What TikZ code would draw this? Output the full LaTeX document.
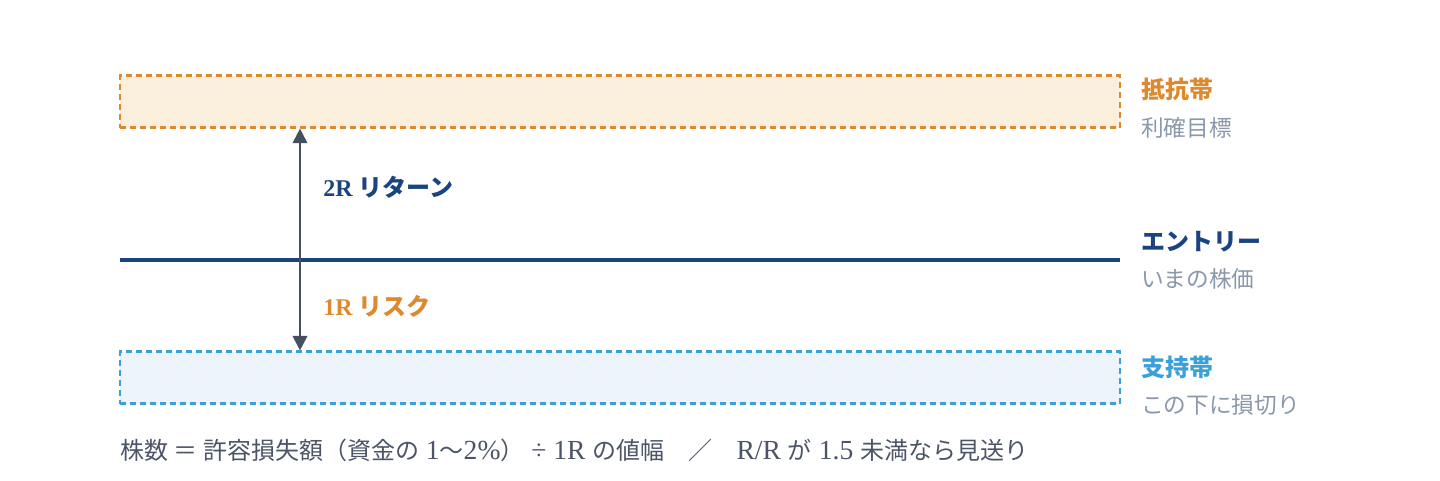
\documentclass[tikz,border=0pt]{standalone}
\usepackage{fontspec}
\setmainfont{Liberation Serif}
\newfontfamily\cjk{Noto Sans CJK JP}
\newfontfamily\lat{Liberation Serif}[Scale=1.15]
\usepackage{tikz}
\usetikzlibrary{arrows.meta,positioning}
\definecolor{resist}{HTML}{DD8A2E}
\definecolor{resistfill}{HTML}{FAEEDD}
\definecolor{support}{HTML}{3A9FDA}
\definecolor{supportfill}{HTML}{EDF4FC}
\definecolor{entry}{HTML}{1A4480}
\definecolor{slate}{HTML}{444F60}
\definecolor{subgray}{HTML}{8A98AB}
\definecolor{notegray}{HTML}{4B5567}
\newcommand{\jp}[1]{{\cjk #1}}
\tikzset{>={Triangle[width=11pt,length=11pt]}}
\tikzset{
  band/.style={draw,dash pattern=on 4.5pt off 3pt,line width=1.6pt,
    minimum width=750pt,minimum height=39pt,inner sep=0pt},
  title/.style={anchor=west,font=\fontsize{18}{20}\selectfont\bfseries,inner sep=0pt},
  sub/.style={anchor=west,font=\fontsize{17}{19}\selectfont,text=subgray,inner sep=0pt},
  rlabel/.style={anchor=west,font=\fontsize{18}{20}\selectfont\bfseries,inner sep=0pt}
}
\begin{document}
\begin{tikzpicture}[x=0.75pt,y=-0.75pt]
    \useasboundingbox (0,0) rectangle (1440,480);
            \node[band,draw=resist,fill=resistfill] (res) at (620,101.5) {};
            \node[band,draw=support,fill=supportfill] (sup) at (620,377.5) {};
            \coordinate (entL) at (120,260);
            \coordinate (entR) at (1120,260);
            \coordinate (ax) at (300,260);
            \draw[entry,line width=3pt] (entL) -- (entR);
            \draw[<->,slate,line width=1.5pt] (res.south -| ax) -- (sup.north -| ax);
            \node[rlabel,text=entry] (ret) at (323,187) {2R \jp{リターン}};
            \node[rlabel,text=resist] (risk) at (323,306) {1R \jp{リスク}};
            % right-hand labels
            \node[title,text=resist] (resT) at (1141,89) {\jp{抵抗帯}};
            \node[sub] (resS) at (1141,128) {\jp{利確目標}};
            \node[title,text=entry] (entT) at (1141,242) {\jp{エントリー}};
            \node[sub] (entS) at (1141,279) {\jp{いまの株価}};
            \node[title,text=support] (supT) at (1141,367) {\jp{支持帯}};
            \node[sub] (supS) at (1141,405) {\jp{この下に損切り}};
            \node[anchor=west,inner sep=0pt,text=notegray,font=\fontsize{18}{20}\selectfont\lat] (note) at (120,450)
                {\jp{株数 ＝ 許容損失額（資金の} 1\jp{〜}2\%\jp{）} ÷ 1R \jp{の値幅　／　}R/R \jp{が} 1.5 \jp{未満なら見送り}};
\end{tikzpicture}
\end{document}
